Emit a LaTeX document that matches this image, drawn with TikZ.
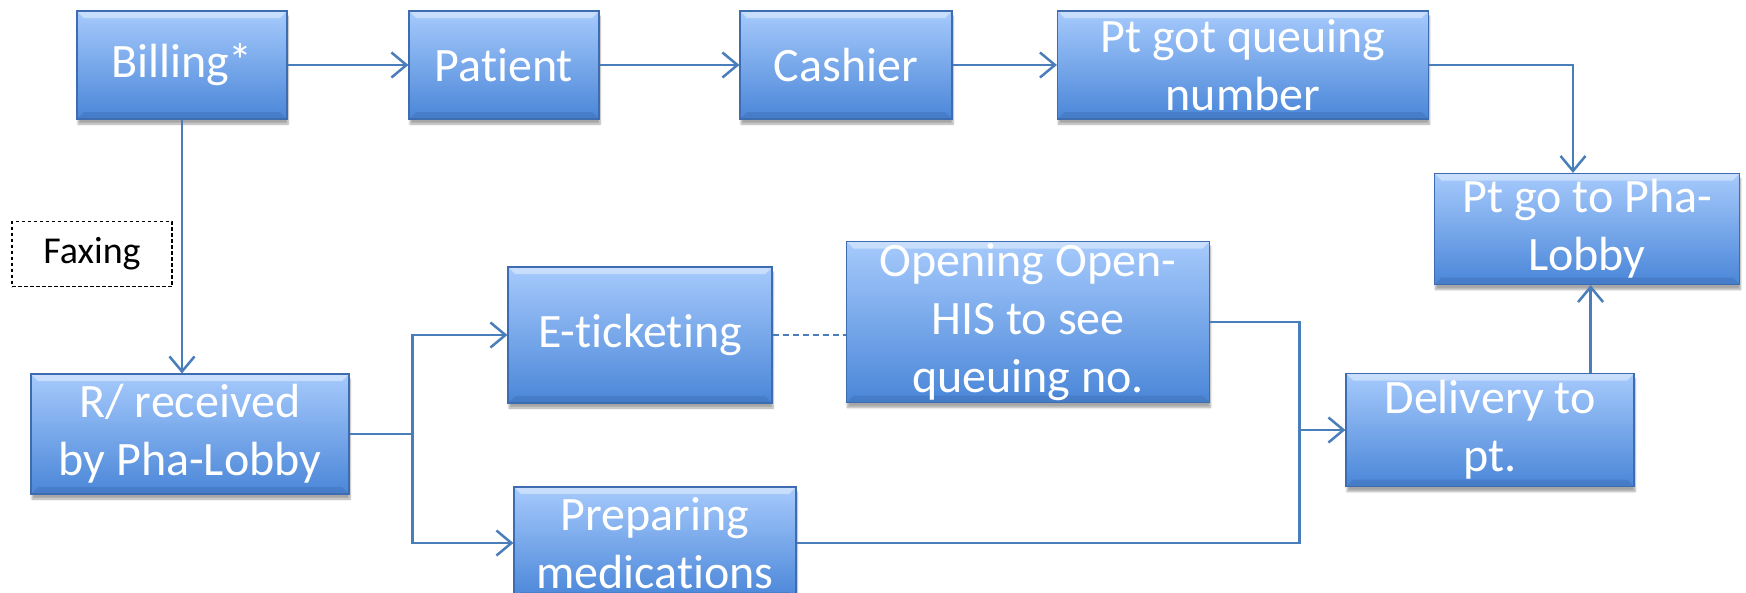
\documentclass[tikz,border=0pt]{standalone}
\usepackage{fontspec}
\setmainfont{Carlito}[Ligatures={NoCommon}]
\usetikzlibrary{arrows.meta,shadows.blur}

\definecolor{boxtop}{RGB}{166,202,252}
\definecolor{boxbot}{RGB}{74,134,216}
\definecolor{boxline}{RGB}{62,108,176}
\definecolor{flow}{RGB}{74,126,187}

\newcommand{\nolig}{\kern0pt{}}

\tikzset{
    blk/.style={rectangle, top color=boxtop, bottom color=boxbot, draw=boxline, line width=1.2pt, inner sep=0pt,
        blur shadow={shadow xshift=1pt, shadow yshift=-5pt, shadow blur steps=6, shadow opacity=35},
        path picture={
            \fill[white, opacity=.4] (path picture bounding box.north west) -- (path picture bounding box.north east)
                -- ([xshift=-7pt,yshift=-7pt]path picture bounding box.north east) -- ([xshift=7pt,yshift=-7pt]path picture bounding box.north west) -- cycle;
            \fill[boxline, opacity=.4] (path picture bounding box.south west) -- (path picture bounding box.south east)
                -- ([xshift=-7pt,yshift=7pt]path picture bounding box.south east) -- ([xshift=7pt,yshift=7pt]path picture bounding box.south west) -- cycle;
        }},
    txt/.style={text=white, align=center, font=\fontsize{48}{58}\selectfont, inner sep=0pt},
    faxbox/.style={draw=black, fill=white, line width=1.3pt, dash pattern=on 3.5pt off 2.5pt, font=\fontsize{38}{44}\selectfont},
    flw/.style={draw=flow, line width=2.5pt},
}

\begin{document}
\begin{tikzpicture}[x=1pt, y=-1pt, >={Straight Barb[length=15pt,width=25pt]}]
    \useasboundingbox (0,0) rectangle (1746,592);
    \node[blk, minimum width=210pt, minimum height=108pt, label={[txt]center:Billing*}] (bill) at (182,65) {};
    \node[blk, minimum width=190pt, minimum height=108pt, label={[txt]center:{Pat\nolig ient}}] (pat) at (504,65) {};
    \node[blk, minimum width=212pt, minimum height=108pt, label={[txt]center:Cashier}] (cash) at (846,65) {};
    \node[blk, minimum width=371pt, minimum height=108pt, label={[txt]center:{Pt got queuing\\number}}] (gotq) at (1243,65) {};
    \node[blk, minimum width=305pt, minimum height=111pt, label={[txt]center:{Pt go to Pha-\\Lobby}}] (gopha) at (1587,229) {};
    \node[blk, minimum width=318pt, minimum height=120pt, label={[txt]center:{R/ received\\by Pha-Lobby}}] (recv) at (190,434) {};
    \node[blk, minimum width=264pt, minimum height=136pt, label={[txt]center:{E-t\nolig icket\nolig ing}}] (etick) at (640,335) {};
    \node[blk, minimum width=363pt, minimum height=161pt, label={[txt]center:{Opening Open-\\HIS to see\\queuing no.}}] (ohis) at (1028,322) {};
    \node[blk, minimum width=282pt, minimum height=112pt, label={[txt]center:{Preparing\\medicat\nolig ions}}] (prep) at (655,543) {};
    \node[blk, minimum width=288pt, minimum height=113pt, label={[txt]center:{Delivery to\\pt.}}] (deliv) at (1490,430) {};
    \node[faxbox, minimum width=160pt, minimum height=65pt] (fax) at (92,254) {Faxing};

    \foreach \a/\b in {bill/pat, pat/cash, cash/gotq}
        \draw[flw, ->] (\a.east) -- (\b.west);
    \draw[flw, ->] (gotq.east) -| ([xshift=-14pt]gopha.north);
    \draw[flw, ->] (bill.south) -- (bill.south |- recv.north);
    \coordinate (fork) at ([xshift=63pt]recv.east);
    \draw[flw] (recv.east) -- (fork);
    \draw[flw, ->] (fork) |- (etick.west);
    \draw[flw, ->] (fork) |- (prep.west);
    \draw[flw, line width=2pt, dash pattern=on 6pt off 4pt] (etick.east) -- (etick.east -| ohis.west);
    \coordinate (merge) at ([xshift=-46pt]deliv.west);
    \draw[flw] (ohis.east) -| (merge);
    \draw[flw] (prep.east) -| (merge);
    \draw[flw, ->] (merge) -- (deliv.west);
    \draw[flw, ->] ([xshift=-44pt]deliv.north east) -- ([xshift=-44pt]deliv.north east |- gopha.south);
\end{tikzpicture}
\end{document}
